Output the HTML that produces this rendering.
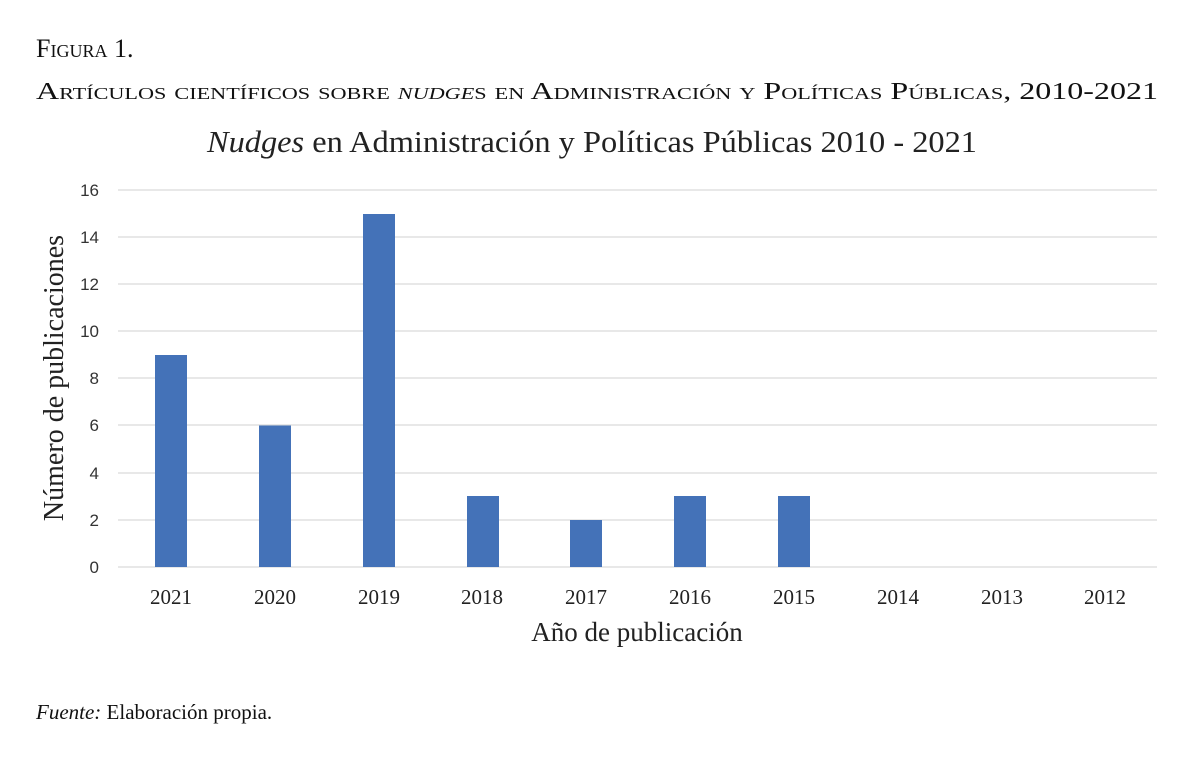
<!DOCTYPE html>
<html><head><meta charset="utf-8"><style>
body{margin:0;background:#fff;width:1196px;height:754px;overflow:hidden;font-family:"Liberation Serif",serif;}
</style></head><body>
<svg width="1196" height="754" xmlns="http://www.w3.org/2000/svg">
<text x="36" y="57" font-family="Liberation Serif" font-size="26" fill="#111" style="font-variant:small-caps">Figura 1.</text>
<text x="36" y="99" font-family="Liberation Serif" font-size="24.5" fill="#111" style="font-variant:small-caps" textLength="1122" lengthAdjust="spacingAndGlyphs">Artículos científicos sobre <tspan font-style="italic">nudge</tspan>s en Administración y Políticas Públicas, 2010-2021</text>
<text x="592" y="152" text-anchor="middle" font-family="Liberation Serif" font-size="31" fill="#222" textLength="770" lengthAdjust="spacingAndGlyphs"><tspan font-style="italic">Nudges</tspan> en Administración y Políticas Públicas 2010 - 2021</text>
<g stroke="#d9d9d9" stroke-width="1.3">
<line x1="118" x2="1157" y1="190" y2="190"/><line x1="118" x2="1157" y1="237" y2="237"/><line x1="118" x2="1157" y1="284" y2="284"/><line x1="118" x2="1157" y1="331" y2="331"/><line x1="118" x2="1157" y1="378" y2="378"/><line x1="118" x2="1157" y1="425" y2="425"/><line x1="118" x2="1157" y1="473" y2="473"/><line x1="118" x2="1157" y1="520" y2="520"/><line x1="118" x2="1157" y1="567" y2="567"/>
</g>
<g font-family="Liberation Sans" font-size="17" fill="#333" text-anchor="end">
<text x="99" y="196">16</text><text x="99" y="243">14</text><text x="99" y="290">12</text><text x="99" y="337">10</text><text x="99" y="384">8</text><text x="99" y="431">6</text><text x="99" y="479">4</text><text x="99" y="526">2</text><text x="99" y="573">0</text>
</g>
<g fill="#4472b8">
<rect x="155" y="355" width="32" height="212"/>
<rect x="259" y="425.5" width="32" height="141.5"/>
<rect x="363" y="214" width="32" height="353"/>
<rect x="467" y="496" width="32" height="71"/>
<rect x="570" y="520" width="32" height="47"/>
<rect x="674" y="496" width="32" height="71"/>
<rect x="778" y="496" width="32" height="71"/>
</g>
<g font-family="Liberation Serif" font-size="21" fill="#222" text-anchor="middle">
<text x="171" y="604">2021</text><text x="275" y="604">2020</text><text x="379" y="604">2019</text><text x="482" y="604">2018</text><text x="586" y="604">2017</text><text x="690" y="604">2016</text><text x="794" y="604">2015</text><text x="898" y="604">2014</text><text x="1002" y="604">2013</text><text x="1105" y="604">2012</text>
</g>
<text x="637" y="641" text-anchor="middle" font-family="Liberation Serif" font-size="27" fill="#222">Año de publicación</text>
<text transform="translate(63,378) rotate(-90)" text-anchor="middle" font-family="Liberation Serif" font-size="28" fill="#222">Número de publicaciones</text>
<text x="36" y="719" font-family="Liberation Serif" font-size="21" fill="#111"><tspan font-style="italic">Fuente:</tspan> Elaboración propia.</text>
</svg>
</body></html>
